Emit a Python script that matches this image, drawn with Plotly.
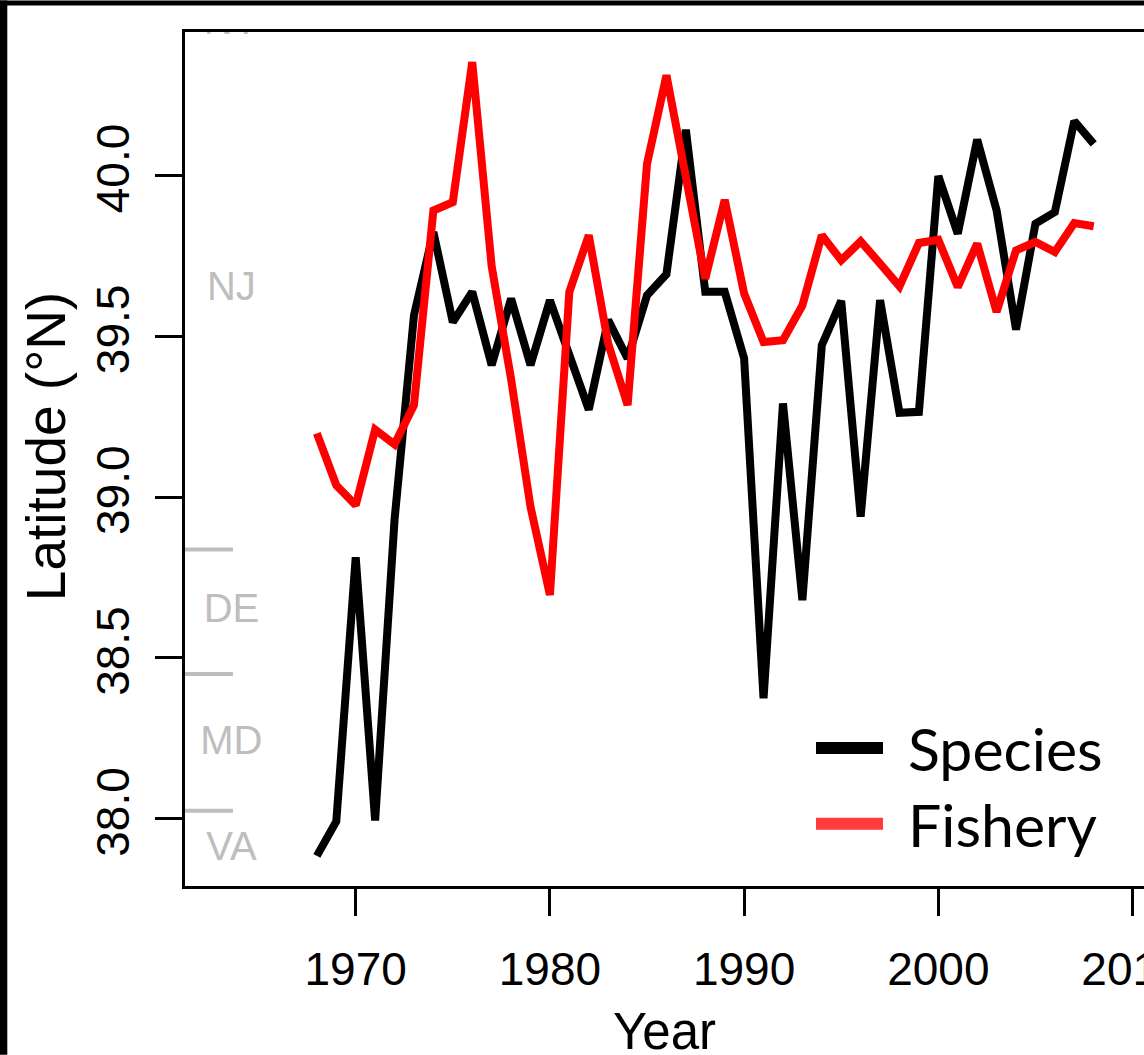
import plotly.graph_objects as go

# ---- data -------------------------------------------------------------
years = list(range(1968, 2009))

species_lat = [
    37.885, 37.992, 38.813, 37.995, 38.930, 39.565, 39.824, 39.544, 39.638, 39.410,
    39.617, 39.410, 39.612, 39.440, 39.272, 39.550, 39.431, 39.627, 39.693, 40.142,
    39.638, 39.638, 39.431, 38.375, 39.291, 38.680, 39.472, 39.610, 38.939, 39.612,
    39.262, 39.265, 39.998, 39.819, 40.111, 39.891, 39.521, 39.850, 39.886, 40.169,
    40.098,
]

fishery_lat = [
    39.198, 39.037, 38.975, 39.210, 39.164, 39.286, 39.891, 39.917, 40.352, 39.718,
    39.367, 38.970, 38.696, 39.638, 39.814, 39.477, 39.286, 40.036, 40.311, 39.990,
    39.679, 39.924, 39.633, 39.482, 39.488, 39.596, 39.814, 39.736, 39.795, 39.726,
    39.655, 39.790, 39.800, 39.653, 39.788, 39.576, 39.767, 39.793, 39.762, 39.852,
    39.842,
]

state_names = ["NY", "NJ", "DE", "MD", "VA"]
state_label_lat = [40.472, 39.643, 38.644, 38.233, 37.904]
state_label_year = 1963.6
boundary_lat = [38.837, 38.450, 38.025]
boundary_years = [1960.0, 1963.68]

x_ticks = [1970, 1980, 1990, 2000, 2010]
y_ticks = [38.0, 38.5, 39.0, 39.5, 40.0]
y_tick_text = ["38.0", "38.5", "39.0", "39.5", "40.0"]

series_names = ["Species", "Fishery"]
series_colors = ["#000000", "#FF0000"]
legend_colors = ["#000000", "#FF3B3B"]

# ---- layout geometry --------------------------------------------------
W, H = 1144, 1055
ML, MR, MT, MB = 185, 0, 31.5, 168.8
x_range = [1961.21, 2010.59]
y_range = [37.7913, 40.4457]
plot_w = W - ML - MR
plot_h = H - MT - MB


def px_to_paper_x(px):
    return (px - ML) / plot_w


def py_to_paper_y(py):
    return (H - MB - py) / plot_h


GRAY = "#BEBEBE"
FONT = "Liberation Sans, Arial, sans-serif"

fig = go.Figure()

# state boundary ticks along the left axis
for lat in boundary_lat:
    fig.add_trace(go.Scatter(
        x=boundary_years, y=[lat, lat], mode="lines",
        line=dict(color=GRAY, width=4), hoverinfo="skip", showlegend=False,
    ))

# state labels
fig.add_trace(go.Scatter(
    x=[state_label_year] * len(state_names), y=state_label_lat,
    mode="text", text=state_names, textposition="middle center",
    textfont=dict(family=FONT, size=40, color=GRAY),
    cliponaxis=True, hoverinfo="skip", showlegend=False,
))

# latitude series
for name, vals, col in zip(series_names, [species_lat, fishery_lat], series_colors):
    fig.add_trace(go.Scatter(
        x=years, y=vals, mode="lines", name=name,
        line=dict(color=col, width=8), showlegend=False,
    ))

shapes = []
# outer black frame edges
shapes.append(dict(type="rect", xref="paper", yref="paper",
                   x0=px_to_paper_x(0), x1=px_to_paper_x(7.3),
                   y0=py_to_paper_y(H), y1=py_to_paper_y(0),
                   fillcolor="black", line=dict(width=0), layer="above"))
shapes.append(dict(type="rect", xref="paper", yref="paper",
                   x0=px_to_paper_x(0), x1=px_to_paper_x(W),
                   y0=py_to_paper_y(5), y1=py_to_paper_y(0),
                   fillcolor="black", line=dict(width=0), layer="above"))

# legend
annotations = []
legend_rows = [748, 824]
for name, col, py in zip(series_names, legend_colors, legend_rows):
    shapes.append(dict(type="line", xref="paper", yref="paper",
                       x0=px_to_paper_x(816), x1=px_to_paper_x(883),
                       y0=py_to_paper_y(py), y1=py_to_paper_y(py),
                       line=dict(color=col, width=12)))
    annotations.append(dict(xref="paper", yref="paper",
                            x=px_to_paper_x(906), y=py_to_paper_y(py + 1),
                            xanchor="left", yanchor="middle", showarrow=False,
                            text=name, font=dict(family="Lato, sans-serif", size=59, color="black")))

# axis titles
annotations.append(dict(xref="paper", yref="paper",
                        x=px_to_paper_x(664.5), y=py_to_paper_y(1032),
                        xanchor="center", yanchor="middle", showarrow=False,
                        text="Year", font=dict(family=FONT, size=51, color="black")))
annotations.append(dict(xref="paper", yref="paper",
                        x=px_to_paper_x(46), y=py_to_paper_y(447),
                        xanchor="center", yanchor="middle", showarrow=False, textangle=-90,
                        text="Latitude (°N)", font=dict(family=FONT, size=55, color="black")))

fig.update_layout(
    width=W, height=H,
    margin=dict(l=ML, r=MR, t=MT, b=MB, autoexpand=False),
    paper_bgcolor="white", plot_bgcolor="white",
    shapes=shapes, annotations=annotations,
    xaxis=dict(range=x_range, tickvals=x_ticks, ticks="outside", ticklen=27, tickwidth=3,
               tickcolor="black", showline=True, linewidth=3, linecolor="black", mirror=True,
               showgrid=False, zeroline=False, ticklabeloverflow="allow",
               tickfont=dict(family=FONT, size=46, color="black"), ticklabelstandoff=14),
    yaxis=dict(range=y_range, tickvals=y_ticks, ticktext=y_tick_text, ticks="outside",
               ticklen=27, tickwidth=3, tickcolor="black", showline=True, linewidth=3,
               linecolor="black", showgrid=False, zeroline=False, tickangle=-90,
               tickfont=dict(family=FONT, size=46, color="black"), ticklabelstandoff=8),
)

fig.write_html("out.html")
